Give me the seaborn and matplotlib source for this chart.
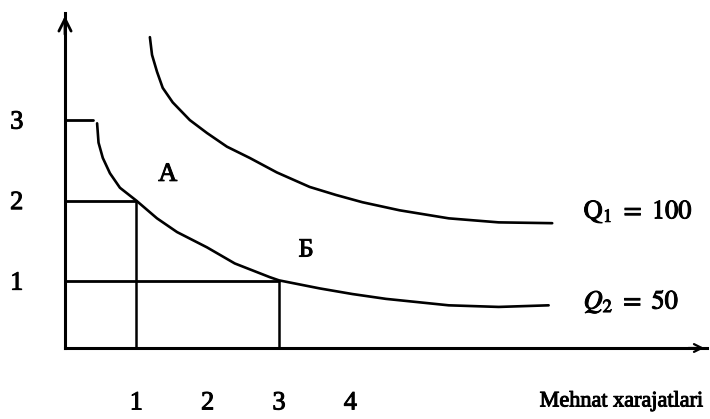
import matplotlib
matplotlib.use("Agg")
import matplotlib.pyplot as plt
import matplotlib.patheffects as pe
import seaborn as sns
import pandas as pd

# ---- data ----
q1_x = [1.19, 1.22, 1.29, 1.37, 1.51, 1.75, 1.99, 2.27, 2.59, 2.97, 3.43, 3.80, 4.17, 4.69, 5.38, 6.08, 6.83]
q1_y = [4.03, 3.81, 3.60, 3.40, 3.22, 3.00, 2.84, 2.67, 2.53, 2.35, 2.17, 2.07, 1.98, 1.88, 1.78, 1.73, 1.72]
q2_x = [0.45, 0.47, 0.53, 0.63, 0.77, 1.00, 1.29, 1.57, 1.99, 2.38, 2.87, 3.00, 3.57, 4.03, 4.50, 5.38, 6.08, 6.78]
q2_y = [2.96, 2.72, 2.53, 2.34, 2.16, 2.00, 1.78, 1.61, 1.42, 1.22, 1.05, 1.01, 0.91, 0.84, 0.78, 0.70, 0.68, 0.70]
x_ticks = [1, 2, 3, 4]
y_ticks = [1, 2, 3]
point_A = (1, 2)
point_B = (3, 1)
q1_label = r"$\mathrm{Q}_{1}\ \mathrm{=}\ \mathrm{100}$"
q2_label = r"$Q_{2}\ \mathrm{=}\ \mathrm{50}$"
x_label = "Mehnat xarajatlari"

sns.set_style("white")
plt.rcParams["font.family"] = ["Liberation Serif", "DejaVu Serif"]
plt.rcParams["mathtext.fontset"] = "stix"
plt.rcParams["text.color"] = "black"
plt.rcParams["xtick.color"] = "black"
plt.rcParams["ytick.color"] = "black"

fig = plt.figure(figsize=(7.10, 4.19), dpi=100)
ax = fig.add_axes([65 / 710, (419 - 348) / 419, 642 / 710, 335 / 419])

df1 = pd.DataFrame({"x": q1_x, "y": q1_y})
df2 = pd.DataFrame({"x": q2_x, "y": q2_y})
sns.lineplot(data=df1, x="x", y="y", sort=False, color="black", lw=1.9, ax=ax,
             solid_joinstyle="round", solid_capstyle="round")
sns.lineplot(data=df2, x="x", y="y", sort=False, color="black", lw=1.9, ax=ax,
             solid_joinstyle="round", solid_capstyle="round")

ymin, ymax = 0.17, 4.33
ax.set_xlim(0, 9)
ax.set_ylim(ymin, ymax)

# guide lines
ax.plot([0, 0.39], [3, 3], color="black", lw=2.0)
ax.plot([0, point_A[0]], [point_A[1], point_A[1]], color="black", lw=2.0)
ax.plot([0, point_B[0]], [point_B[1], point_B[1]], color="black", lw=2.0)
ax.plot([point_A[0], point_A[0]], [ymin, point_A[1]], color="black", lw=1.8)
ax.plot([point_B[0], point_B[0]], [ymin, point_B[1]], color="black", lw=1.8)

# spines / axes
for s in ["top", "right"]:
    ax.spines[s].set_visible(False)
for s in ["left", "bottom"]:
    ax.spines[s].set_linewidth(2.2)
    ax.spines[s].set_color("black")
ax.annotate("", xy=(0, ymax), xytext=(0, ymax - 0.3), xycoords="data",
            arrowprops=dict(arrowstyle="->", lw=2.0, color="black", mutation_scale=22),
            annotation_clip=False)
ax.annotate("", xy=(9, ymin), xytext=(8.7, ymin), xycoords="data",
            arrowprops=dict(arrowstyle="->", lw=1.6, color="black", mutation_scale=14),
            annotation_clip=False)

thick = [pe.withStroke(linewidth=0.7, foreground="black")]

ax.set_xticks(x_ticks)
ax.set_yticks(y_ticks)
ax.set_xticklabels([str(v) for v in x_ticks], fontsize=19, path_effects=thick)
ax.set_yticklabels([str(v) for v in y_ticks], fontsize=19, path_effects=thick)
ax.tick_params(axis="x", length=0, pad=32)
ax.tick_params(axis="y", length=0, pad=30)
ax.set_xlabel("")
ax.set_ylabel("")

ax.text(1.44, 2.32, "A", fontsize=19, ha="center", va="center", path_effects=thick)
ax.text(3.38, 1.38, "Б", fontsize=19, ha="center", va="center", path_effects=thick)
ax.text(7.27, 1.86, q1_label, fontsize=19, ha="left", va="center", path_effects=thick)
ax.text(7.27, 0.74, q2_label, fontsize=19, ha="left", va="center", path_effects=thick)
ax.text(7.80, -0.50, x_label, fontsize=16, ha="center", va="center", clip_on=False,
        path_effects=thick)

fig.savefig("out.png", dpi=100, facecolor="white")
